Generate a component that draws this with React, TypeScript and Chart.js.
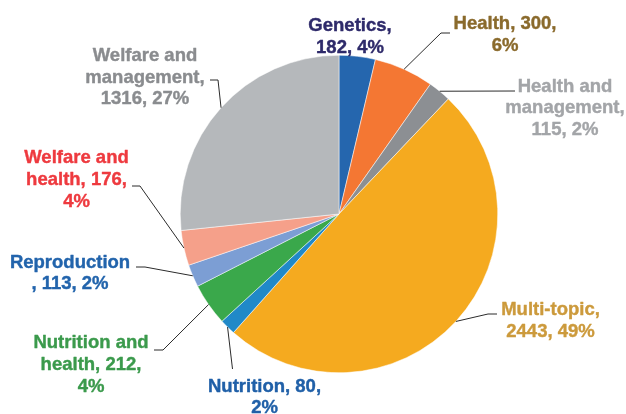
import { useEffect, useRef } from "react";
import { Chart, registerables } from "chart.js";

Chart.register(...registerables);

// ---- Data ----
const categories = [
  "Genetics",
  "Health",
  "Health and management",
  "Multi-topic",
  "Nutrition",
  "Nutrition and health",
  "Reproduction",
  "Welfare and health",
  "Welfare and management",
];
const counts = [182, 300, 115, 2443, 80, 212, 113, 176, 1316];
const labelLines = [
  ["Genetics,", "182, 4%"],
  ["Health, 300,", "6%"],
  ["Health and", "management,", "115, 2%"],
  ["Multi-topic,", "2443, 49%"],
  ["Nutrition, 80,", "2%"],
  ["Nutrition and", "health, 212,", "4%"],
  ["Reproduction", ", 113, 2%"],
  ["Welfare and", "health, 176,", "4%"],
  ["Welfare and", "management,", "1316, 27%"],
];

// ---- Styles ----
const sliceColors = [
  "#2566AE",
  "#F47733",
  "#8C8F93",
  "#F5AA1F",
  "#2089C8",
  "#3AA84B",
  "#7C9ED4",
  "#F5A08A",
  "#B5B8BB",
];
const labelColors = [
  "#2E2A6A",
  "#8A6A2C",
  "#A3A5A8",
  "#CC9A3C",
  "#2060A8",
  "#3B9A4C",
  "#2264AC",
  "#EE3A3F",
  "#8A8C8F",
];

// ---- Label layout (offsets from pie centre, px) ----
type LabelLayout = { tx: number; ty: number; pts: number[][] };
const labelLayout: LabelLayout[] = [
  { tx: 11, ty: -183, pts: [] },
  { tx: 166, ty: -185, pts: [[102, -181], [111, -181]] },
  { tx: 226, ty: -122.5, pts: [[176, -123]] },
  { tx: 211.5, ty: 101, pts: [[149, 100], [158, 100]] },
  { tx: -74.5, ty: 177.7, pts: [[-106.5, 155]] },
  { tx: -248, ty: 134.3, pts: [[-176, 136], [-185, 136]] },
  { tx: -269, ty: 53.7, pts: [[-194, 53], [-203, 53]] },
  { tx: -262.5, ty: -50.7, pts: [[-199, -28], [-207, -28]] },
  { tx: -194, ty: -153, pts: [[-121, -134], [-129, -134]] },
];
const LINE_HEIGHT = 21.7;
const FONT = 'bold 18.5px "Liberation Sans", Arial, sans-serif';

const outsideLabels = {
  id: "outsideLabels",
  afterDraw(chart: any) {
    const ctx = chart.ctx as CanvasRenderingContext2D;
    const meta = chart.getDatasetMeta(0);
    ctx.save();
    meta.data.forEach((arc: any, i: number) => {
      const p = arc.getProps(["x", "y", "startAngle", "endAngle", "outerRadius"], true);
      const mid = (p.startAngle + p.endAngle) / 2;
      const ex = p.x + Math.cos(mid) * p.outerRadius;
      const ey = p.y + Math.sin(mid) * p.outerRadius;
      const lay = labelLayout[i];
      if (lay.pts.length) {
        ctx.beginPath();
        ctx.moveTo(ex, ey);
        lay.pts.forEach((q) => ctx.lineTo(p.x + q[0], p.y + q[1]));
        ctx.strokeStyle = "#2b2b2b";
        ctx.lineWidth = 1;
        ctx.stroke();
      }
      ctx.font = FONT;
      ctx.fillStyle = labelColors[i];
      ctx.strokeStyle = labelColors[i];
      ctx.lineWidth = 0.4;
      ctx.lineJoin = "round";
      ctx.textAlign = "center";
      ctx.textBaseline = "alphabetic";
      labelLines[i].forEach((line, k) => {
        const x = p.x + lay.tx;
        const y = p.y + lay.ty + k * LINE_HEIGHT;
        ctx.fillText(line, x, y);
        ctx.strokeText(line, x, y);
      });
    });
    ctx.restore();
  },
};

export default function App() {
  const ref = useRef<HTMLCanvasElement | null>(null);
  useEffect(() => {
    if (!ref.current) return;
    const chart = new Chart(ref.current, {
      type: "pie",
      data: {
        labels: categories,
        datasets: [
          {
            data: counts,
            backgroundColor: sliceColors,
            borderColor: "#ffffff",
            borderWidth: 0.5,
          },
        ],
      },
      options: {
        animation: false,
        responsive: false,
        devicePixelRatio: 1,
        layout: { padding: { left: 180, right: 128, top: 55, bottom: 41 } },
        plugins: {
          legend: { display: false },
          tooltip: { enabled: false },
        },
      },
      plugins: [outsideLabels],
    });
    return () => chart.destroy();
  }, []);
  return (
    <div style={{ position: "fixed", left: 0, top: 0, width: 626, height: 414, background: "#fff" }}>
      <canvas ref={ref} width={626} height={414} style={{ width: 626, height: 414, display: "block" }} />
    </div>
  );
}
